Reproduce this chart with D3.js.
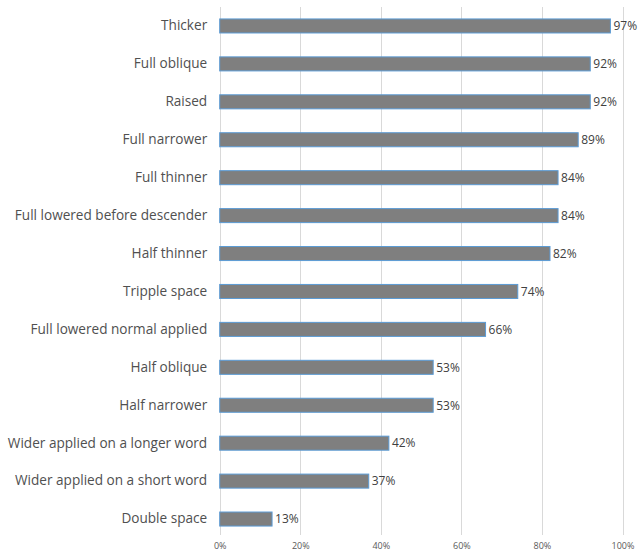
<!DOCTYPE html>
<html><head><meta charset="utf-8">
<script src="https://cdn.jsdelivr.net/npm/d3@7"></script>
<style>body{margin:0;background:#fff}</style>
</head><body>
<svg id="chart" width="643" height="556"></svg>
<script>
const categories = ["Thicker","Full oblique","Raised","Full narrower","Full thinner","Full lowered before descender","Half thinner","Tripple space","Full lowered normal applied","Half oblique","Half narrower","Wider applied on a longer word","Wider applied on a short word","Double space"];
const values = [97,92,92,89,84,84,82,74,66,53,53,42,37,13];
const tickValues = [0,20,40,60,80,100];

const svg = d3.select("#chart");
const font = "'Open Sans', 'Noto Sans', sans-serif";
const x = d3.scaleLinear().domain([0,100]).range([219.7,622.5]);
const y = d3.scaleBand().domain(categories).range([7,538]).paddingInner(0.63).paddingOuter(0.315);

svg.append("g").selectAll("line").data(tickValues).join("line")
  .attr("x1", d=>Math.round(x(d))+0.5).attr("x2", d=>Math.round(x(d))+0.5)
  .attr("y1", 7).attr("y2", 535)
  .attr("stroke", "#d9d9d9").attr("stroke-width", 1);

svg.append("g").selectAll("rect").data(values).join("rect")
  .attr("x", x(0)).attr("y", (d,i)=>y(categories[i]))
  .attr("width", d=>x(d)-x(0)).attr("height", y.bandwidth())
  .attr("fill", "#7f7f7f").attr("stroke", "#5b9bd5").attr("stroke-width", 1);

svg.append("g").selectAll("text").data(values).join("text")
  .attr("x", d=>x(d)+3).attr("y", (d,i)=>y(categories[i])+y.bandwidth()/2)
  .attr("dy", "0.36em").attr("font-family", font).attr("font-size", 12)
  .attr("fill", "#404040").text(d=>d+"%");

const yAxis = svg.append("g").attr("transform", `translate(${x(0)},0)`)
  .call(d3.axisLeft(y).tickSize(0).tickPadding(12.5));
yAxis.select(".domain").remove();
yAxis.selectAll("text").attr("font-family", font).attr("font-size", 13.6).attr("fill", "#505050");

const xAxis = svg.append("g").attr("transform", `translate(0,541)`)
  .call(d3.axisBottom(x).tickValues(tickValues).tickSize(0).tickPadding(2).tickFormat(d=>d+"%"));
xAxis.select(".domain").remove();
xAxis.selectAll("text").attr("font-family", font).attr("font-size", 9).attr("fill", "#595959");
</script>
</body></html>
